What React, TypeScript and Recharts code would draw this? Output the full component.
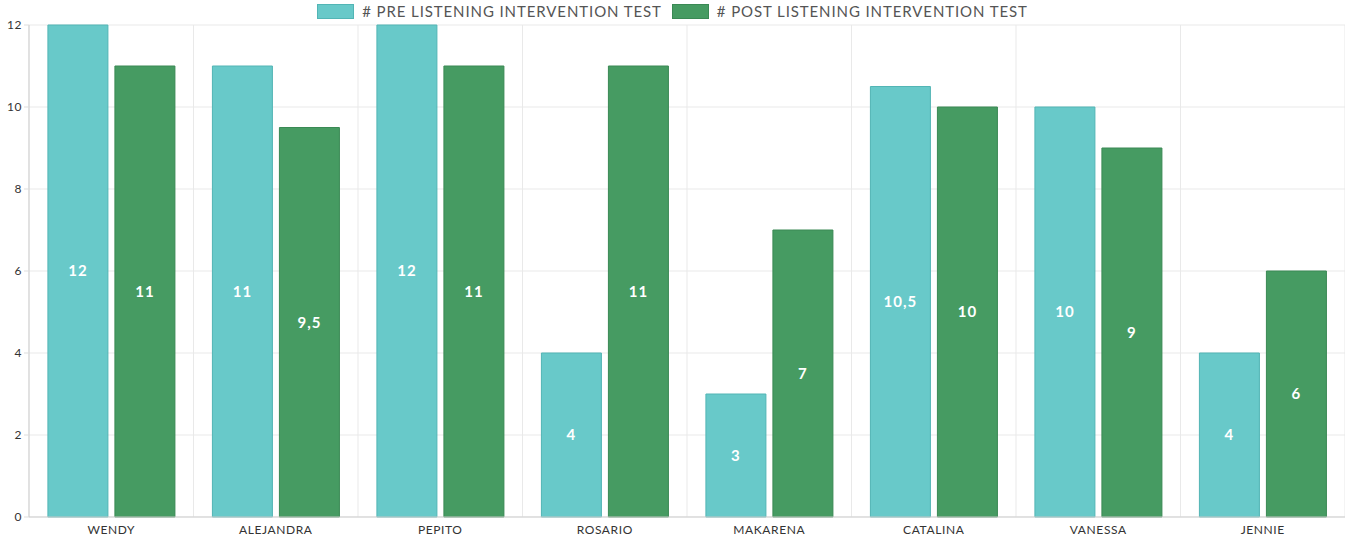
import { BarChart, Bar, XAxis, YAxis, CartesianGrid, Legend, LabelList } from 'recharts';

const students = ['WENDY', 'ALEJANDRA', 'PEPITO', 'ROSARIO', 'MAKARENA', 'CATALINA', 'VANESSA', 'JENNIE'];
const preTest = [12, 11, 12, 4, 3, 10.5, 10, 4];
const postTest = [11, 9.5, 11, 11, 7, 10, 9, 6];
const yTicks = [0, 2, 4, 6, 8, 10, 12];

const PRE_NAME = '# PRE LISTENING INTERVENTION TEST';
const POST_NAME = '# POST LISTENING INTERVENTION TEST';

const data = students.map((name, i) => ({ name, pre: preTest[i], post: postTest[i] }));

const font = 'Lato, "Open Sans", sans-serif';
const comma = (v: any) => String(v).replace('.', ',');

function LegendBox() {
  const items = [
    { label: PRE_NAME, fill: '#68c9c9', stroke: '#52b5b5' },
    { label: POST_NAME, fill: '#469b62', stroke: '#3a8954' },
  ];
  return (
    <div style={{ display: 'flex', justifyContent: 'center', fontFamily: font, fontSize: 15, letterSpacing: 0.9, color: '#555', lineHeight: '18px' }}>
      {items.map(it => (
        <div key={it.label} style={{ display: 'flex', alignItems: 'center', margin: '0 5px' }}>
          <span style={{ width: 35, height: 13, background: it.fill, border: `1px solid ${it.stroke}`, marginRight: 8 }} />
          <span>{it.label}</span>
        </div>
      ))}
    </div>
  );
}

const labelStyle = { fill: '#fff', fontFamily: font, fontSize: 15, fontWeight: 700, letterSpacing: 1 };

export default function App() {
  return (
    <div style={{ position: 'absolute', left: 0, top: 0 }}>
      <BarChart width={1345} height={538} data={data} margin={{ top: 7, right: 0, bottom: 0, left: 0 }}
        barCategoryGap="11.5%" barGap={7}>
        <CartesianGrid stroke="#e9e9e9"
          verticalCoordinatesGenerator={({ offset }: any) =>
            Array.from({ length: students.length + 1 }, (_, i) => offset.left + (i * offset.width) / students.length)} />
        <XAxis dataKey="name" height={21} tickLine={false} axisLine={{ stroke: '#cfcfcf' }}
          tick={{ fontFamily: font, fontSize: 12, fill: '#333', letterSpacing: 0.6 }} interval={0} />
        <YAxis width={29} domain={[0, 12]} ticks={yTicks} axisLine={{ stroke: '#cfcfcf' }}
          tickLine={{ stroke: '#dddddd' }} tickSize={5}
          tick={{ fontFamily: font, fontSize: 12, fill: '#333', letterSpacing: 0.5 }} />
        <Legend verticalAlign="top" height={18} wrapperStyle={{ top: 2 }} content={() => <LegendBox />} />
        <Bar dataKey="pre" name={PRE_NAME} fill="#68c9c9" stroke="#52b5b5" isAnimationActive={false}>
          <LabelList dataKey="pre" position="center" formatter={comma} style={labelStyle} />
        </Bar>
        <Bar dataKey="post" name={POST_NAME} fill="#469b62" stroke="#3a8954" isAnimationActive={false}>
          <LabelList dataKey="post" position="center" formatter={comma} style={labelStyle} />
        </Bar>
      </BarChart>
    </div>
  );
}
